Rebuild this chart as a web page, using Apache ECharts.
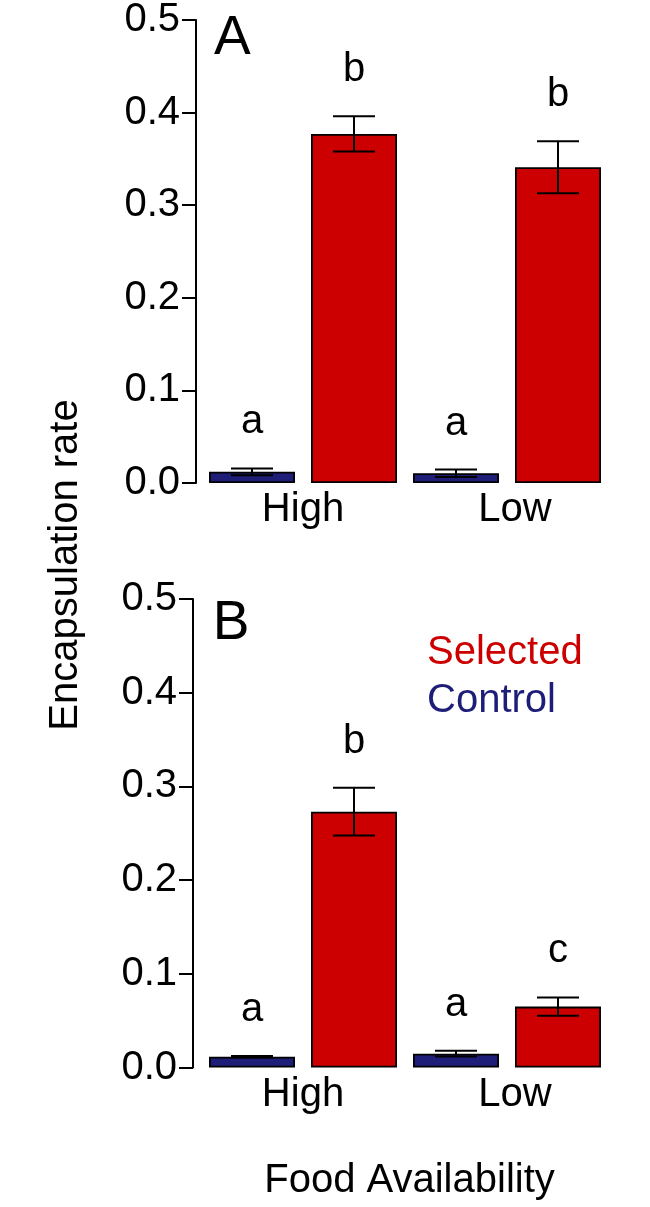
<!DOCTYPE html>
<html>
<head>
<meta charset="utf-8">
<script src="https://cdn.jsdelivr.net/npm/echarts@6/dist/echarts.min.js"></script>
<style>
html,body{margin:0;padding:0;background:#fff;}
#chart{width:650px;height:1207px;}
</style>
</head>
<body>
<div id="chart"></div>
<script>
// ---- data ----
const categories = ['High', 'Low'];
const seriesNames = ['Control', 'Selected'];
const panelLabels = ['A', 'B'];
// Panel A
const controlA = [0.0121, 0.0105];
const controlAse = [0.0036, 0.0041];
const selectedA = [0.377, 0.341];
const selectedAse = [0.019, 0.028];
const lettersControlA = ['a', 'a'];
const lettersSelectedA = ['b', 'b'];
// Panel B
const controlB = [0.0115, 0.0148];
const controlBse = [0.0008, 0.003];
const selectedB = [0.273, 0.065];
const selectedBse = [0.0255, 0.0098];
const lettersControlB = ['a', 'a'];
const lettersSelectedB = ['b', 'c'];
const yMin = 0, yMax = 0.5, yStep = 0.1;
const yTitle = 'Encapsulation rate';
const xTitle = 'Food Availability';

// ---- styles ----
const FONT = "'Liberation Sans', Arial, Helvetica, sans-serif";
const colControl = '#1e1e78';
const colSelected = '#cc0000';

const chart = echarts.init(document.getElementById('chart'), null, {renderer: 'canvas'});

function errSeries(name, gridIdx, means, ses, letters, side) {
  return {
    type: 'custom',
    name: name,
    xAxisIndex: gridIdx, yAxisIndex: gridIdx,
    z: 5,
    clip: false,
    data: means.map((m, i) => [i, m, ses[i]]),
    renderItem: function (params, api) {
      const cat = api.value(0), m = api.value(1), s = api.value(2);
      const band = api.size([1, 0])[0];
      const x = api.coord([cat, m])[0] + side * band * 0.25;
      const yt = api.coord([cat, m + s])[1];
      const yb = api.coord([cat, m - s])[1];
      const hw = 21;
      const ls = {stroke: '#000', lineWidth: 2};
      return {
        type: 'group',
        children: [
          {type: 'line', shape: {x1: x, y1: yt, x2: x, y2: yb}, style: ls},
          {type: 'line', shape: {x1: x - hw, y1: yt, x2: x + hw, y2: yt}, style: ls},
          {type: 'line', shape: {x1: x - hw, y1: yb, x2: x + hw, y2: yb}, style: ls},
          {type: 'text', x: x, y: yt - 46,
           style: {text: letters[params.dataIndex], font: '40px ' + FONT, fill: '#000',
                   align: 'center', verticalAlign: 'middle'}}
        ]
      };
    }
  };
}

function barSeries(name, gridIdx, vals, color) {
  return {
    type: 'bar', name: name,
    xAxisIndex: gridIdx, yAxisIndex: gridIdx,
    data: vals,
    barWidth: 86,
    barGap: '18.6%',
    itemStyle: {color: color, borderColor: '#000', borderWidth: 1.8},
    emphasis: {disabled: true}
  };
}

const grids = [
  {left: 201, width: 408, top: 14.7, height: 468.3},
  {left: 201, width: 408, top: 599, height: 468.5}
];

function xAx(i) {
  const a = {
    type: 'category', gridIndex: i,
    data: [
      {value: categories[0]},
      {value: categories[1], textStyle: {padding: [0, 0, 0, 16]}}
    ],
    axisLine: {show: false}, axisTick: {show: false},
    axisLabel: {fontSize: 40, fontFamily: FONT, color: '#000', margin: 7}
  };
  if (i === 1) {
    a.name = xTitle;
    a.nameLocation = 'middle';
    a.nameGap = 93.6;
    a.nameTextStyle = {fontSize: 40, fontFamily: FONT, color: '#000', padding: [0, 0, 0, 9]};
  }
  return a;
}
function yAx(i, off) {
  return {
    type: 'value', gridIndex: i, min: yMin, max: yMax, interval: yStep,
    offset: off,
    axisLine: {show: true, lineStyle: {color: '#000', width: 2}},
    axisTick: {show: true, length: 14, lineStyle: {color: '#000', width: 2}},
    splitLine: {show: false},
    axisLabel: {fontSize: 40, fontFamily: FONT, color: '#000', margin: 16,
                formatter: v => v.toFixed(1)}
  };
}

const option = {
  backgroundColor: '#fff',
  animation: false,
  grid: grids,
  xAxis: [xAx(0), xAx(1)],
  yAxis: [yAx(0, 5), yAx(1, 8)],
  legend: {
    orient: 'vertical', left: 417, top: 624,
    icon: 'none', itemWidth: 0, itemHeight: 10, itemGap: 0,
    selectedMode: false,
    data: [
      {name: 'Selected', textStyle: {color: colSelected}},
      {name: 'Control', textStyle: {color: colControl}}
    ],
    textStyle: {fontSize: 40, fontFamily: FONT, lineHeight: 48}
  },
  graphic: [
    {type: 'text', x: 65.6, y: 565, rotation: Math.PI / 2,
     style: {text: yTitle, font: '40px ' + FONT, fill: '#000', align: 'center', verticalAlign: 'middle'}},
    {type: 'text', x: 214, y: 39,
     style: {text: panelLabels[0], font: '55px ' + FONT, fill: '#000', align: 'left', verticalAlign: 'middle'}},
    {type: 'text', x: 212.7, y: 623.7,
     style: {text: panelLabels[1], font: '55px ' + FONT, fill: '#000', align: 'left', verticalAlign: 'middle'}}
  ],
  series: [
    barSeries(seriesNames[0], 0, controlA, colControl),
    barSeries(seriesNames[1], 0, selectedA, colSelected),
    barSeries(seriesNames[0], 1, controlB, colControl),
    barSeries(seriesNames[1], 1, selectedB, colSelected),
    errSeries(seriesNames[0], 0, controlA, controlAse, lettersControlA, -1),
    errSeries(seriesNames[1], 0, selectedA, selectedAse, lettersSelectedA, 1),
    errSeries(seriesNames[0], 1, controlB, controlBse, lettersControlB, -1),
    errSeries(seriesNames[1], 1, selectedB, selectedBse, lettersSelectedB, 1)
  ]
};
chart.setOption(option);
</script>
</body>
</html>
